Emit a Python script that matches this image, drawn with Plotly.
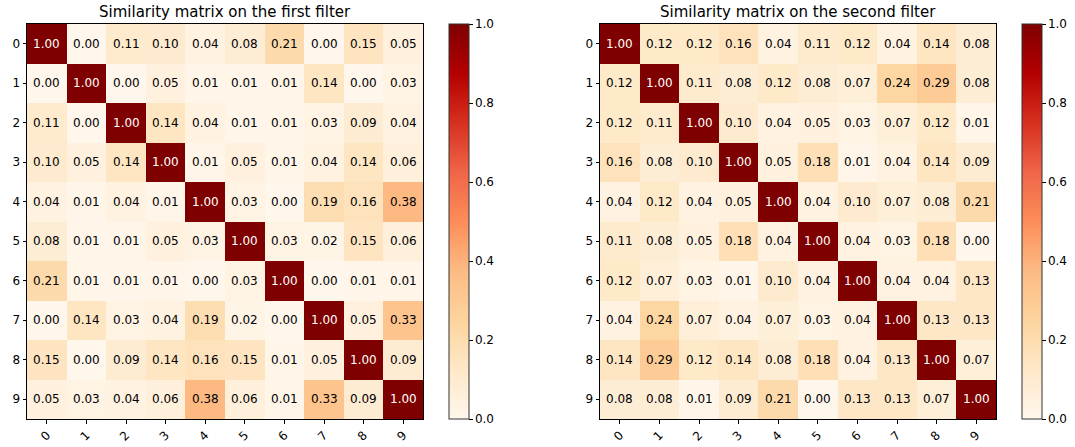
import plotly.graph_objects as go

labels = [str(i) for i in range(10)]

sim_first = [
    [1.00, 0.00, 0.11, 0.10, 0.04, 0.08, 0.21, 0.00, 0.15, 0.05],
    [0.00, 1.00, 0.00, 0.05, 0.01, 0.01, 0.01, 0.14, 0.00, 0.03],
    [0.11, 0.00, 1.00, 0.14, 0.04, 0.01, 0.01, 0.03, 0.09, 0.04],
    [0.10, 0.05, 0.14, 1.00, 0.01, 0.05, 0.01, 0.04, 0.14, 0.06],
    [0.04, 0.01, 0.04, 0.01, 1.00, 0.03, 0.00, 0.19, 0.16, 0.38],
    [0.08, 0.01, 0.01, 0.05, 0.03, 1.00, 0.03, 0.02, 0.15, 0.06],
    [0.21, 0.01, 0.01, 0.01, 0.00, 0.03, 1.00, 0.00, 0.01, 0.01],
    [0.00, 0.14, 0.03, 0.04, 0.19, 0.02, 0.00, 1.00, 0.05, 0.33],
    [0.15, 0.00, 0.09, 0.14, 0.16, 0.15, 0.01, 0.05, 1.00, 0.09],
    [0.05, 0.03, 0.04, 0.06, 0.38, 0.06, 0.01, 0.33, 0.09, 1.00],
]

sim_second = [
    [1.00, 0.12, 0.12, 0.16, 0.04, 0.11, 0.12, 0.04, 0.14, 0.08],
    [0.12, 1.00, 0.11, 0.08, 0.12, 0.08, 0.07, 0.24, 0.29, 0.08],
    [0.12, 0.11, 1.00, 0.10, 0.04, 0.05, 0.03, 0.07, 0.12, 0.01],
    [0.16, 0.08, 0.10, 1.00, 0.05, 0.18, 0.01, 0.04, 0.14, 0.09],
    [0.04, 0.12, 0.04, 0.05, 1.00, 0.04, 0.10, 0.07, 0.08, 0.21],
    [0.11, 0.08, 0.05, 0.18, 0.04, 1.00, 0.04, 0.03, 0.18, 0.00],
    [0.12, 0.07, 0.03, 0.01, 0.10, 0.04, 1.00, 0.04, 0.04, 0.13],
    [0.04, 0.24, 0.07, 0.04, 0.07, 0.03, 0.04, 1.00, 0.13, 0.13],
    [0.14, 0.29, 0.12, 0.14, 0.08, 0.18, 0.04, 0.13, 1.00, 0.07],
    [0.08, 0.08, 0.01, 0.09, 0.21, 0.00, 0.13, 0.13, 0.07, 1.00],
]

titles = ["Similarity matrix on the first filter", "Similarity matrix on the second filter"]

W, H = 1075, 447
FONT = "DejaVu Sans"

# pixel layout
plot_x = [(27, 423), (600, 996)]
cbar_x = [449, 1022]
top, bottom = 24, 419
ydom = [1 - bottom / H, 1 - top / H]

fig = go.Figure()
annotations = []
for k, (mat, (x0, x1), cx) in enumerate(zip([sim_first, sim_second], plot_x, cbar_x)):
    xa = "x" if k == 0 else "x2"
    ya = "y" if k == 0 else "y2"
    fig.add_trace(go.Heatmap(
        z=mat, x=list(range(10)), y=list(range(10)),
        colorscale="OrRd", zmin=0, zmax=1, xaxis=xa, yaxis=ya,
        hoverinfo="skip",
        colorbar=dict(
            x=cx / W, xanchor="left", xpad=0, ypad=0,
            thicknessmode="pixels", thickness=20,
            lenmode="pixels", len=bottom - top,
            y=(ydom[0] + ydom[1]) / 2, yanchor="middle",
            outlinecolor="#333333", outlinewidth=1,
            tickmode="array", tickvals=[0, 0.2, 0.4, 0.6, 0.8, 1.0],
            ticktext=["0.0", "0.2", "0.4", "0.6", "0.8", "1.0"],
            ticks="outside", ticklen=3.5, tickcolor="black",
            tickfont=dict(family=FONT, size=12, color="black"),
        ),
    ))
    for i, row in enumerate(mat):
        for j, v in enumerate(row):
            annotations.append(dict(
                x=j, y=i, xref=xa, yref=ya, text=f"{v:.2f}", showarrow=False,
                font=dict(family=FONT, size=12, color="white" if v > 0.5 else "black"),
            ))
    annotations.append(dict(
        x=(x0 + x1) / 2 / W, y=1 - 12 / H, xref="paper", yref="paper",
        text=titles[k], showarrow=False, xanchor="center", yanchor="middle",
        font=dict(family=FONT, size=15, color="black"),
    ))

axis_common = dict(
    tickmode="array", tickvals=list(range(10)), ticktext=labels,
    showline=True, mirror=True, linecolor="black", linewidth=1,
    ticks="outside", ticklen=3.5, tickcolor="black", showgrid=False, zeroline=False,
    tickfont=dict(family=FONT, size=12, color="black"),
    range=[-0.5, 9.5],
)

fig.update_layout(
    width=W, height=H, margin=dict(l=0, r=0, t=0, b=0),
    paper_bgcolor="white", plot_bgcolor="white",
    xaxis=dict(axis_common, domain=[plot_x[0][0] / W, plot_x[0][1] / W], anchor="y", tickangle=-45),
    yaxis=dict(axis_common, domain=ydom, anchor="x", autorange=False, range=[9.5, -0.5]),
    xaxis2=dict(axis_common, domain=[plot_x[1][0] / W, plot_x[1][1] / W], anchor="y2", tickangle=-45),
    yaxis2=dict(axis_common, domain=ydom, anchor="x2", autorange=False, range=[9.5, -0.5]),
    annotations=annotations,
    showlegend=False,
)

fig.write_html("out.html")
